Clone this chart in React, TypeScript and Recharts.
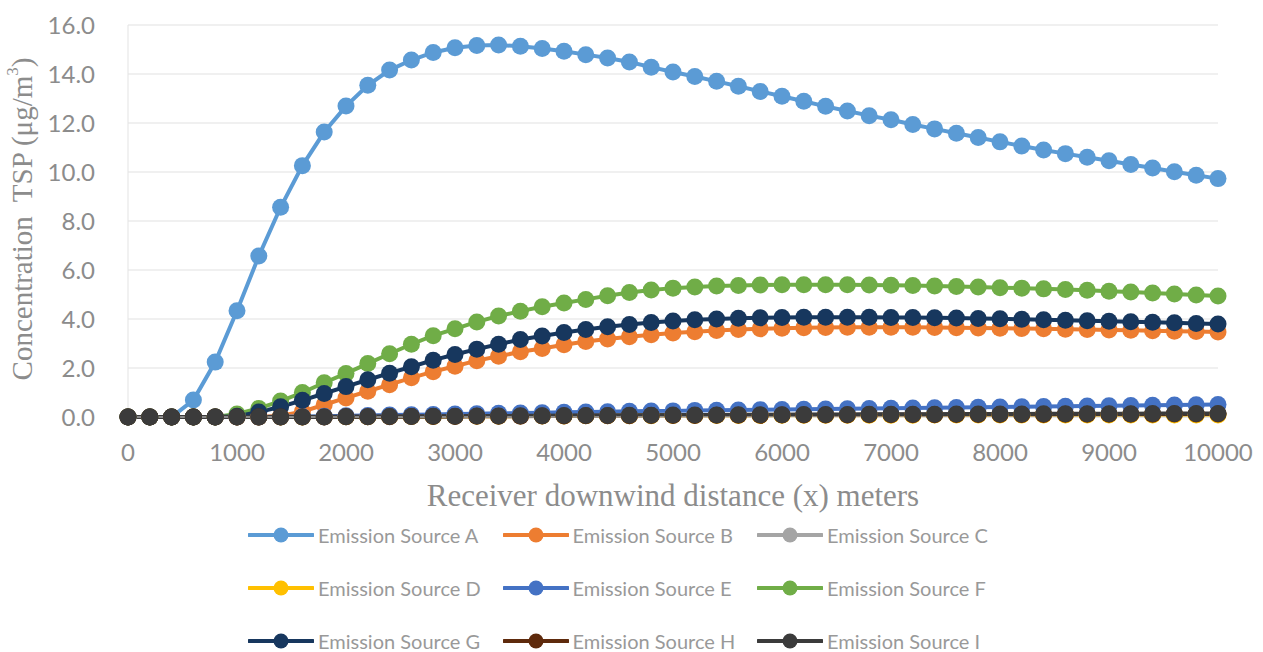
import { LineChart, Line, XAxis, YAxis, CartesianGrid } from "recharts";

const distances = [
  0, 200, 400, 600, 800, 1000, 1200, 1400, 1600, 1800, 2000, 2200, 2400, 2600, 2800, 3000, 3200,
  3400, 3600, 3800, 4000, 4200, 4400, 4600, 4800, 5000, 5200, 5400, 5600, 5800, 6000, 6200, 6400,
  6600, 6800, 7000, 7200, 7400, 7600, 7800, 8000, 8200, 8400, 8600, 8800, 9000, 9200, 9400, 9600,
  9800, 10000,
];

const sourceA = [
  0, 0, 0, 0.69, 2.24, 4.34, 6.57, 8.56, 10.26, 11.63, 12.69, 13.54, 14.16, 14.57, 14.88, 15.07,
  15.16, 15.18, 15.13, 15.04, 14.93, 14.79, 14.65, 14.49, 14.28, 14.08, 13.9, 13.7, 13.5, 13.29,
  13.09, 12.89, 12.68, 12.49, 12.3, 12.13, 11.94, 11.76, 11.58, 11.41, 11.23, 11.06, 10.9, 10.75,
  10.6, 10.46, 10.31, 10.16, 10.01, 9.87, 9.73,
];
const sourceB = [
  0, 0, 0, 0, 0, 0, 0, 0.05, 0.22, 0.5, 0.78, 1.05, 1.32, 1.6, 1.85, 2.07, 2.3, 2.48, 2.66, 2.8,
  2.95, 3.08, 3.18, 3.28, 3.36, 3.43, 3.48, 3.53, 3.57, 3.6, 3.62, 3.64, 3.65, 3.66, 3.66, 3.66,
  3.66, 3.65, 3.64, 3.63, 3.62, 3.61, 3.6, 3.58, 3.57, 3.55, 3.54, 3.52, 3.5, 3.49, 3.47,
];
const sourceC = [
  0, 0, 0, 0, 0, 0, 0, 0, 0.01, 0.01, 0.02, 0.02, 0.03, 0.03, 0.04, 0.04, 0.05, 0.05, 0.05, 0.06,
  0.06, 0.06, 0.07, 0.07, 0.07, 0.08, 0.08, 0.08, 0.08, 0.09, 0.09, 0.09, 0.09, 0.09, 0.1, 0.1,
  0.1, 0.1, 0.1, 0.1, 0.1, 0.1, 0.11, 0.11, 0.11, 0.11, 0.11, 0.11, 0.11, 0.11, 0.11,
];
const sourceD = [
  0, 0, 0, 0, 0, 0, 0, 0, 0, 0.01, 0.01, 0.01, 0.02, 0.02, 0.02, 0.03, 0.03, 0.03, 0.04, 0.04,
  0.04, 0.05, 0.05, 0.05, 0.05, 0.06, 0.06, 0.06, 0.06, 0.06, 0.07, 0.07, 0.07, 0.07, 0.07, 0.07,
  0.07, 0.08, 0.08, 0.08, 0.08, 0.08, 0.08, 0.08, 0.08, 0.08, 0.08, 0.08, 0.08, 0.08, 0.08,
];
const sourceE = [
  0, 0, 0, 0, 0, 0, 0, 0.01, 0.02, 0.03, 0.05, 0.06, 0.08, 0.09, 0.1, 0.12, 0.13, 0.15, 0.16,
  0.17, 0.19, 0.2, 0.21, 0.23, 0.24, 0.25, 0.27, 0.28, 0.29, 0.3, 0.31, 0.32, 0.33, 0.34, 0.35,
  0.36, 0.37, 0.38, 0.39, 0.4, 0.41, 0.42, 0.43, 0.44, 0.45, 0.46, 0.47, 0.48, 0.49, 0.5, 0.51,
];
const sourceF = [
  0, 0, 0, 0, 0, 0.12, 0.35, 0.65, 1.0, 1.4, 1.78, 2.18, 2.58, 2.97, 3.32, 3.6, 3.88, 4.12, 4.32,
  4.5, 4.65, 4.8, 4.95, 5.08, 5.18, 5.26, 5.31, 5.35, 5.37, 5.39, 5.4, 5.4, 5.4, 5.4, 5.39, 5.38,
  5.37, 5.35, 5.33, 5.31, 5.28, 5.26, 5.23, 5.2, 5.17, 5.13, 5.1, 5.06, 5.02, 4.98, 4.94,
];
const sourceG = [
  0, 0, 0, 0, 0, 0.03, 0.2, 0.42, 0.68, 0.96, 1.24, 1.52, 1.79, 2.05, 2.32, 2.55, 2.77, 2.97,
  3.16, 3.31, 3.45, 3.57, 3.68, 3.78, 3.86, 3.92, 3.97, 4.0, 4.03, 4.05, 4.06, 4.07, 4.07, 4.07,
  4.07, 4.06, 4.06, 4.05, 4.04, 4.02, 4.01, 3.99, 3.97, 3.95, 3.93, 3.91, 3.89, 3.87, 3.85, 3.82,
  3.8,
];
const sourceH = [
  0, 0, 0, 0, 0, 0, 0, 0, 0, 0, 0.01, 0.01, 0.01, 0.02, 0.02, 0.02, 0.03, 0.03, 0.03, 0.04, 0.04,
  0.05, 0.05, 0.05, 0.06, 0.06, 0.06, 0.07, 0.07, 0.07, 0.08, 0.08, 0.08, 0.08, 0.09, 0.09, 0.09,
  0.09, 0.1, 0.1, 0.1, 0.1, 0.1, 0.11, 0.11, 0.11, 0.11, 0.11, 0.12, 0.12, 0.12,
];
const sourceI = [
  0, 0, 0, 0, 0, 0, 0, 0, 0, 0, 0.01, 0.01, 0.02, 0.02, 0.03, 0.03, 0.04, 0.04, 0.05, 0.05, 0.06,
  0.06, 0.06, 0.07, 0.07, 0.08, 0.08, 0.08, 0.09, 0.09, 0.09, 0.1, 0.1, 0.1, 0.11, 0.11, 0.11,
  0.11, 0.12, 0.12, 0.12, 0.12, 0.13, 0.13, 0.13, 0.13, 0.13, 0.14, 0.14, 0.14, 0.14,
];

const seriesKeys = ["A", "B", "C", "D", "E", "F", "G", "H", "I"];
const seriesValues = [sourceA, sourceB, sourceC, sourceD, sourceE, sourceF, sourceG, sourceH, sourceI];
const seriesColors = [
  "#5B9BD5", "#ED7D31", "#A5A5A5", "#FFC000", "#4472C4", "#70AD47", "#17375E", "#5E2A0C", "#3B3B3B",
];

const xTicks = [0, 1000, 2000, 3000, 4000, 5000, 6000, 7000, 8000, 9000, 10000];
const yTicks = [0, 2, 4, 6, 8, 10, 12, 14, 16];

const chartData = distances.map((x, i) => {
  const row: Record<string, number> = { x };
  seriesKeys.forEach((k, j) => {
    row[k] = seriesValues[j][i];
  });
  return row;
});

const tickStyle = { fontSize: 24, fill: "#8C8C8C", fontFamily: "Lato, sans-serif" };
const serif = "'Liberation Serif', 'Times New Roman', serif";

const YTitle = (props: any) => {
  const vb = props.viewBox || { x: 28, y: 25, width: 100, height: 392 };
  const cx = 22;
  const cy = vb.y + vb.height / 2 - 2;
  return (
    <text
      x={cx}
      y={cy}
      transform={`rotate(-90 ${cx} ${cy})`}
      textAnchor="middle"
      dominantBaseline="central"
      fill="#8C8C8C"
      fontSize={29}
      fontFamily={serif}
      style={{ whiteSpace: "pre" }}
    >
      {"Concentration  TSP (μg/m"}
      <tspan dy={-10} fontSize={17}>3</tspan>
      <tspan dy={10}>)</tspan>
    </text>
  );
};

function LegendBox() {
  return (
    <div style={{ position: "absolute", left: 0, top: 0 }}>
      {seriesKeys.map((k, i) => {
        const col = i % 3;
        const row = Math.floor(i / 3);
        const left = 248 + col * 254.5;
        const top = 535 + row * 53;
        return (
          <div
            key={k}
            style={{
              position: "absolute",
              left,
              top: top - 13,
              height: 26,
              display: "flex",
              alignItems: "center",
              whiteSpace: "nowrap",
            }}
          >
            <svg width={66} height={24} style={{ display: "block" }}>
              <line x1={1} y1={12} x2={65} y2={12} stroke={seriesColors[i]} strokeWidth={4} strokeLinecap="round" />
              <circle cx={33} cy={12} r={7.5} fill={seriesColors[i]} />
            </svg>
            <span
              style={{
                marginLeft: 4,
                fontFamily: "Lato, sans-serif",
                fontSize: 20,
                color: "#999999",
              }}
            >
              {`Emission Source ${k}`}
            </span>
          </div>
        );
      })}
    </div>
  );
}

export default function App() {
  return (
    <div style={{ position: "absolute", left: 0, top: 0, width: 1263, height: 652, background: "#fff" }}>
      <LineChart
        width={1263}
        height={652}
        data={chartData}
        margin={{ top: 25, right: 45, left: 28, bottom: 135 }}
      >
        <CartesianGrid vertical={false} stroke="#EBEBEB" strokeWidth={1.5} />
        <XAxis
          dataKey="x"
          type="number"
          domain={[0, 10000]}
          ticks={xTicks}
          height={100}
          tick={tickStyle}
          tickLine={false}
          tickSize={0}
          tickMargin={27}
          axisLine={{ stroke: "#D9D9D9" }}
          label={{
            value: "Receiver downwind distance (x) meters",
            position: "insideBottom",
            offset: 11,
            style: { fontSize: 31, fill: "#8C8C8C", fontFamily: serif },
          }}
        />
        <YAxis
          domain={[0, 16]}
          ticks={yTicks}
          width={100}
          tick={tickStyle}
          tickFormatter={(v: number) => v.toFixed(1)}
          tickLine={false}
          tickSize={0}
          tickMargin={33}
          axisLine={{ stroke: "#E3E3E3" }}
          label={<YTitle />}
        />
        {seriesKeys.map((k, i) => (
          <Line
            key={k}
            type="linear"
            dataKey={k}
            stroke={seriesColors[i]}
            strokeWidth={4}
            dot={{ r: 8.5, fill: seriesColors[i], stroke: seriesColors[i], strokeWidth: 0 }}
            isAnimationActive={false}
          />
        ))}
      </LineChart>
      <LegendBox />
    </div>
  );
}
